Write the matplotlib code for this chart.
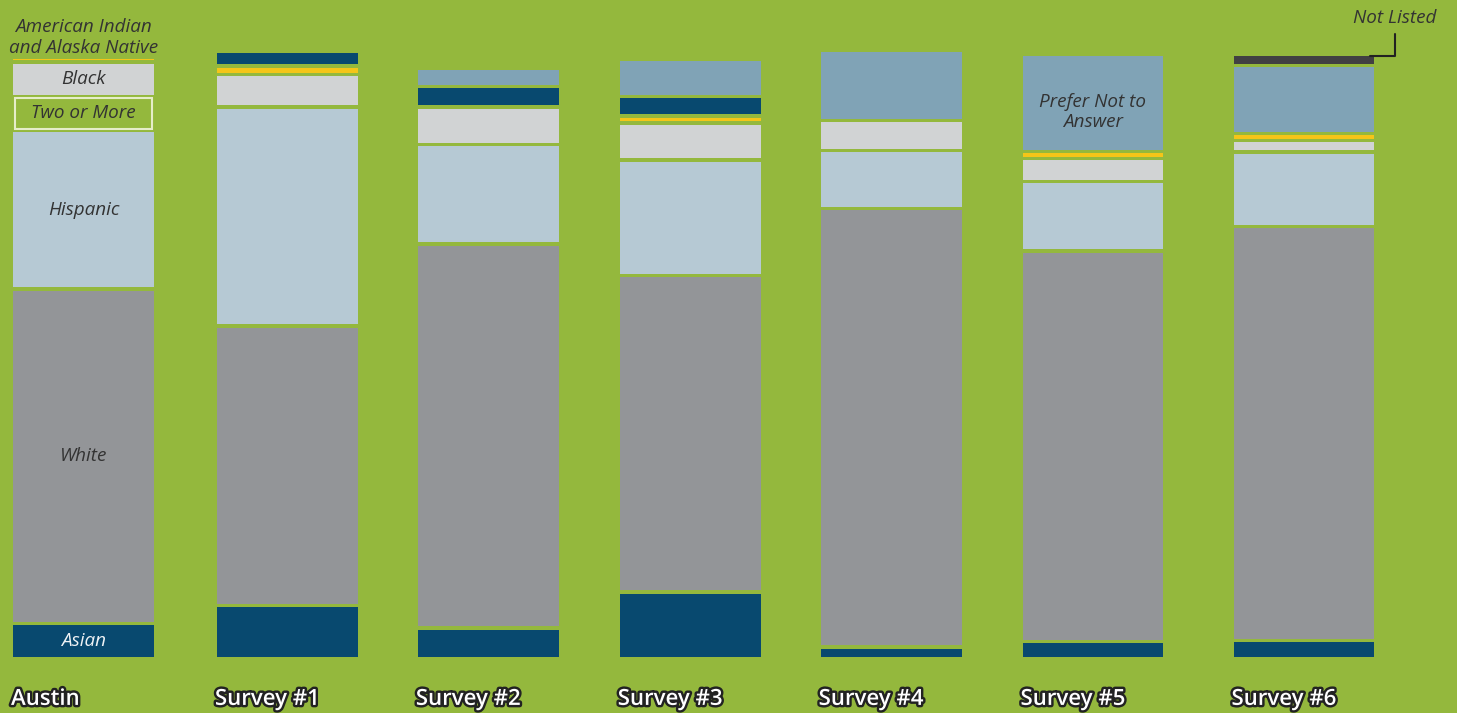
import numpy as np
import matplotlib.pyplot as plt
import matplotlib.patheffects as pe

# groups and stacked categories (bottom -> top), values in percent
groups = ["Austin", "Survey #1", "Survey #2", "Survey #3", "Survey #4", "Survey #5", "Survey #6"]
categories = ["Asian", "White", "Hispanic", "Two or More", "Black",
              "American Indian\nand Alaska Native", "Other", "Prefer Not to\nAnswer", "Not Listed"]

asian = [5.5, 8.6, 4.7, 10.9, 1.4, 2.4, 2.5]
white = [56.9, 47.5, 65.5, 53.9, 74.9, 66.6, 70.7]
hispanic = [26.7, 37.1, 16.5, 19.2, 9.4, 11.3, 12.2]
two_or_more = [5.3, 0, 0, 0, 0, 0, 0]
black = [5.3, 5.0, 5.9, 5.8, 4.5, 3.4, 1.4]
aian = [0.3, 0.8, 0, 0.6, 0, 0.6, 0.6]
other = [0, 1.9, 2.9, 2.8, 0, 0, 0]
prefer_not = [0, 0, 2.6, 5.7, 11.6, 16.2, 11.1]
not_listed = [0, 0, 0, 0, 0, 0, 1.4]

series = [asian, white, hispanic, two_or_more, black, aian, other, prefer_not, not_listed]

bg = "#94b83d"
colors = ["#08496f", "#939598", "#b6c9d4", bg, "#d1d3d4",
          "#f5c518", "#08496f", "#80a3b6", "#414042"]

bar_x = [0, 1.01, 2.005, 3.005, 4.0, 5.0, 6.045]
width = 0.698
gap = 0.6

plt.rcParams['font.family'] = ['Open Sans', 'DejaVu Sans']

fig = plt.figure(figsize=(14.57, 7.13), dpi=100, facecolor=bg)
ax = fig.add_axes([0, 0, 1, 1])
ax.set_facecolor(bg)
ax.set_xlim(-0.4136, 6.803)
ax.set_ylim(-9.64, 113.08)
ax.axis("off")

segs = {}  # (group, category) -> (bottom, height)
for i, g in enumerate(groups):
    bottom = 0.0
    for k, cat in enumerate(categories):
        v = series[k][i]
        if v <= 0:
            continue
        if cat == "Two or More":
            ax.bar(bar_x[i], v, width=width - 0.02, bottom=bottom, color=bg,
                   edgecolor="#e6edc9", linewidth=1.5)
        else:
            ax.bar(bar_x[i], v, width=width, bottom=bottom, color=colors[k],
                   edgecolor="none")
        segs[(i, cat)] = (bottom, v)
        bottom += v + gap
    segs[(i, "top")] = bottom - gap

lab = dict(fontsize=13.6, style="italic", color="#333333", ha="center", va="center")

# segment labels on the Austin bar
for cat in ["White", "Hispanic", "Two or More", "Black"]:
    b, h = segs[(0, cat)]
    ax.text(bar_x[0], b + h / 2, cat, **lab)
b, h = segs[(0, "Asian")]
ax.text(bar_x[0], b + h / 2, "Asian", **{**lab, "color": "#eef2f5"})
ax.text(bar_x[0], segs[(0, "top")] + 0.3, categories[5], linespacing=1.2,
        **{**lab, "va": "bottom"})

b, h = segs[(5, categories[7])]
ax.text(bar_x[5], b + h / 2 - 1.6, categories[7], linespacing=1.15, **lab)

# callout for Not Listed
b, h = segs[(6, "Not Listed")]
ax.annotate("Not Listed", xy=(bar_x[6] + width / 2 - 0.02, b + h),
            xytext=(bar_x[6] + 0.45, b + h + 6.4), fontsize=13.6, style="italic",
            color="#333333", ha="center", va="center",
            arrowprops=dict(arrowstyle="-", color="#222222", lw=1.5,
                            connectionstyle="angle,angleA=90,angleB=0,rad=0",
                            shrinkA=3, shrinkB=0))

# group names under the bars
for i, g in enumerate(groups):
    ax.text(bar_x[i] - width / 2 - 0.01, -7.3, g, fontsize=16, fontweight="semibold",
            color="white", ha="left", va="center",
            path_effects=[pe.withStroke(linewidth=3.5, foreground="#222222")])

fig.savefig("out.png", dpi=100, facecolor=bg)
